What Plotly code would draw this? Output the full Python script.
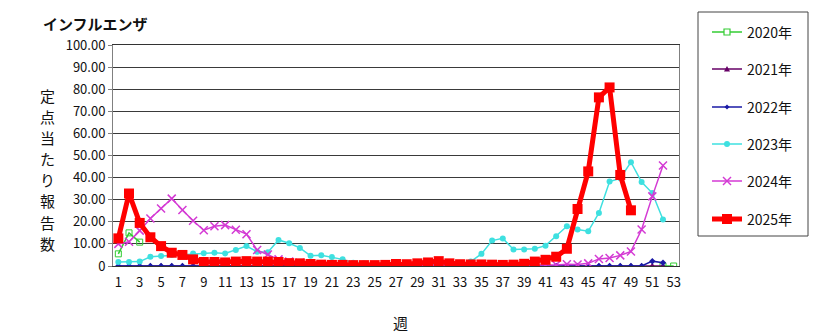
import plotly.graph_objects as go

weeks = list(range(1, 54))

# 2020 (only early weeks and year-end shown)
y2020 = [5.5, 15.0, 10.8] + [None] * 48 + [0, 0]
# 2021 (all zero)
y2021 = [0] * 52
# 2022
y2022 = [0] * 50 + [2.2, 1.5]
# 2023
y2023 = [1.8, 1.8, 2.0, 4.2, 4.5, 5.0, 5.3, 5.7, 5.8, 6.0,
         5.7, 7.2, 9.0, 6.5, 6.2, 11.8, 10.3, 8.2, 4.6, 4.9,
         4.1, 3.0, 1.5, 1.2, 1.0, 0.8, 0.6, 0.5, 0.5, 0.5,
         0.5, 0.5, 0.8, 2.0, 5.5, 11.5, 12.5, 7.5, 7.5, 7.8,
         9.2, 13.5, 18.0, 16.5, 15.7, 24.0, 38.2, 39.7, 47.0, 38.0,
         33.0, 21.0]
# 2024
y2024 = [10.0, 11.0, 16.0, 21.5, 26.0, 30.5, 25.3, 20.5, 16.2, 18.0,
         18.5, 16.4, 14.4, 7.2, 5.2, 3.0, 2.0, 1.5, 1.0, 0.8,
         0.5, 0.4, 0.4, 0.3, 0.3, 0.3, 0.3, 0.3, 0.3, 0.3,
         0.3, 0.3, 0.3, 0.3, 0.3, 0.3, 0.3, 0.3, 0.3, 0.4,
         0.4, 0.5, 0.8, 0.7, 1.2, 3.2, 3.6, 4.8, 6.6, 16.5,
         31.5, 45.5]
# 2025
y2025 = [12.5, 32.8, 19.5, 13.0, 9.0, 6.0, 5.0, 3.0, 1.8, 1.8,
         1.6, 2.0, 2.2, 2.0, 2.0, 1.8, 1.3, 1.2, 0.9, 0.6,
         0.5, 0.5, 0.4, 0.4, 0.4, 0.5, 0.9, 0.8, 1.2, 1.6,
         2.2, 1.2, 0.8, 0.7, 0.7, 0.6, 0.5, 0.6, 1.0, 2.0,
         2.8, 4.2, 7.8, 25.8, 42.8, 76.3, 80.8, 41.2, 25.2]

series = [
    ("2020年", y2020, "#33cc33", 1.5, dict(symbol="square-open", size=6)),
    ("2021年", y2021, "#660066", 1.5, dict(symbol="triangle-up", size=6)),
    ("2022年", y2022, "#1a1aa6", 1.5, dict(symbol="diamond", size=5)),
    ("2023年", y2023, "#3ee0e0", 1.5, dict(symbol="circle", size=6)),
    ("2024年", y2024, "#d43ad4", 1.5, dict(symbol="x-thin-open", size=8, line=dict(width=1.5))),
    ("2025年", y2025, "#ff0000", 5, dict(symbol="square", size=10)),
]

ytitle = "定点当たり報告数"

W, H = 830, 336
PL, PT, PW, PH = 113, 45, 566, 221


def px(x):
    return (x - PL) / PW


def py(y):
    return (PT + PH - y) / PH


fig = go.Figure()
for i, (name, ys, color, lw, mk) in enumerate(series):
    marker = dict(color=color, **mk)
    if "line" in marker:
        marker["line"] = dict(color=color, width=mk["line"]["width"])
    fig.add_trace(go.Scatter(
        x=weeks[:len(ys)], y=ys, name=name, mode="lines+markers",
        line=dict(color=color, width=lw), marker=marker,
        connectgaps=False, showlegend=False,
    ))

ytick_vals = list(range(0, 101, 10))
ytick_text = ["0"] + [f"{v:.2f}" for v in ytick_vals[1:]]
xtick_vals = list(range(1, 54, 2))

font_name = "Noto Sans CJK JP"

annotations = [
    dict(text="<b>インフルエンザ</b>", xref="paper", yref="paper",
         x=px(41), y=py(24), xanchor="left", yanchor="middle", showarrow=False,
         font=dict(family=font_name, size=15, color="#111")),
    dict(text="週", xref="paper", yref="paper",
         x=px(400), y=py(322), xanchor="center", yanchor="middle", showarrow=False,
         font=dict(family=font_name, size=15, color="#111")),
]
for k, ch in enumerate(ytitle):
    annotations.append(dict(
        text=ch, xref="paper", yref="paper",
        x=px(47), y=py(95 + k * 21.2),
        xanchor="center", yanchor="middle", showarrow=False,
        font=dict(family=font_name, size=15, color="#111")))

# manual legend
shapes = [dict(type="rect", xref="paper", yref="paper",
               x0=px(698), x1=px(808), y0=py(236), y1=py(12),
               line=dict(color="#444", width=1), fillcolor="white", layer="above")]
item_y = [32, 69, 107, 144, 181, 219]
for (name, ys, color, lw, mk), yc in zip(series, item_y):
    shapes.append(dict(type="line", xref="paper", yref="paper",
                       x0=px(712), x1=px(742), y0=py(yc), y1=py(yc),
                       line=dict(color=color, width=lw), layer="above"))
    cx = 727
    sym = mk["symbol"]
    s = mk["size"] / 2
    if sym == "square-open":
        shapes.append(dict(type="rect", xref="paper", yref="paper",
                           x0=px(cx - s), x1=px(cx + s), y0=py(yc + s), y1=py(yc - s),
                           line=dict(color=color, width=1.2), fillcolor="white", layer="above"))
    elif sym == "square":
        shapes.append(dict(type="rect", xref="paper", yref="paper",
                           x0=px(cx - s), x1=px(cx + s), y0=py(yc + s), y1=py(yc - s),
                           line=dict(color=color, width=0), fillcolor=color, layer="above"))
    elif sym == "circle":
        shapes.append(dict(type="circle", xref="paper", yref="paper",
                           x0=px(cx - s), x1=px(cx + s), y0=py(yc + s), y1=py(yc - s),
                           line=dict(color=color, width=0), fillcolor=color, layer="above"))
    elif sym == "triangle-up":
        path = (f"M {px(cx - s)},{py(yc + s * 0.8)} L {px(cx + s)},{py(yc + s * 0.8)} "
                f"L {px(cx)},{py(yc - s)} Z")
        shapes.append(dict(type="path", xref="paper", yref="paper", path=path,
                           line=dict(color=color, width=0), fillcolor=color, layer="above"))
    elif sym == "diamond":
        path = (f"M {px(cx - s)},{py(yc)} L {px(cx)},{py(yc - s)} "
                f"L {px(cx + s)},{py(yc)} L {px(cx)},{py(yc + s)} Z")
        shapes.append(dict(type="path", xref="paper", yref="paper", path=path,
                           line=dict(color=color, width=0), fillcolor=color, layer="above"))
    elif sym == "x-thin-open":
        for d in (1, -1):
            shapes.append(dict(type="line", xref="paper", yref="paper",
                               x0=px(cx - s), x1=px(cx + s),
                               y0=py(yc - d * s), y1=py(yc + d * s),
                               line=dict(color=color, width=1.5), layer="above"))
    annotations.append(dict(text=name, xref="paper", yref="paper",
                            x=px(745), y=py(yc), xanchor="left", yanchor="middle",
                            showarrow=False,
                            font=dict(family=font_name, size=14, color="#111")))

fig.update_layout(
    width=W, height=H,
    margin=dict(l=PL, r=W - PL - PW, t=PT, b=H - PT - PH),
    paper_bgcolor="white", plot_bgcolor="white",
    font=dict(family=font_name, size=13, color="#111"),
    showlegend=False,
    xaxis=dict(
        range=[0.5, 53.5], tickmode="array", tickvals=xtick_vals,
        ticktext=[str(v) for v in xtick_vals],
        showgrid=False, zeroline=False,
        showline=True, linecolor="#333333", linewidth=1, mirror=True,
        ticks="", ticklabelstandoff=4,
        tickfont=dict(family=font_name, size=13, color="#111"),
    ),
    yaxis=dict(
        range=[0, 100], tickmode="array", tickvals=ytick_vals, ticktext=ytick_text,
        showgrid=True, gridcolor="#3a3a3a", gridwidth=1, zeroline=False,
        showline=True, linecolor="#808080", linewidth=1, mirror=True,
        ticks="outside", ticklen=4, tickcolor="#808080",
        tickfont=dict(family=font_name, size=13, color="#111"),
    ),
    shapes=shapes,
    annotations=annotations,
)

fig.write_html("out.html")
